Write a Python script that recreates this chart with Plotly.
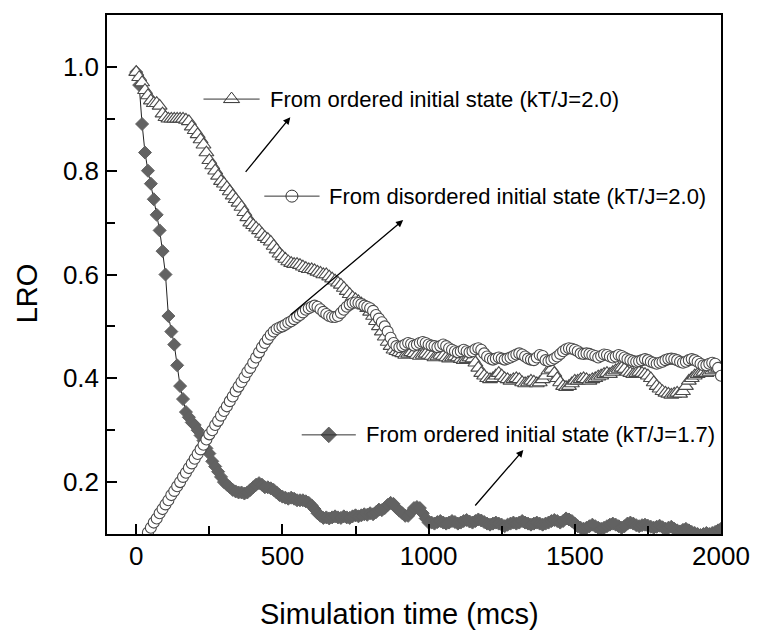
import plotly.graph_objects as go

# ---------------- data ----------------
t_ordered_17 = list(range(0, 2001, 10))
lro_ordered_17 = (
    [0.99, 0.965, 0.89, 0.835, 0.80, 0.775, 0.745, 0.715, 0.685, 0.645]
    + [0.60, 0.52, 0.49, 0.465, 0.425, 0.385, 0.36, 0.335, 0.325, 0.315]
    + [0.31, 0.30, 0.29, 0.28, 0.265, 0.255, 0.24, 0.23, 0.22, 0.21]
    + [0.20, 0.195, 0.19, 0.185, 0.182, 0.18, 0.18, 0.178, 0.18, 0.185]
    + [0.19, 0.195, 0.198, 0.195, 0.19, 0.19, 0.188, 0.185, 0.18, 0.175]
    + [0.172, 0.17, 0.168, 0.17, 0.168, 0.165, 0.165, 0.165, 0.163, 0.16]
    + [0.155, 0.148, 0.14, 0.135, 0.131, 0.132, 0.13, 0.132, 0.134, 0.132]
    + [0.131, 0.134, 0.132, 0.131, 0.134, 0.136, 0.134, 0.136, 0.138, 0.137]
    + [0.14, 0.138, 0.142, 0.147, 0.146, 0.15, 0.156, 0.16, 0.158, 0.15]
    + [0.145, 0.14, 0.135, 0.135, 0.142, 0.15, 0.152, 0.15, 0.14, 0.13]
    + [0.122, 0.122, 0.12, 0.123, 0.125, 0.122, 0.12, 0.122, 0.125, 0.123]
    + [0.12, 0.122, 0.125, 0.127, 0.124, 0.122, 0.125, 0.128, 0.126, 0.123]
    + [0.12, 0.118, 0.12, 0.122, 0.12, 0.118, 0.115, 0.118, 0.12, 0.122]
    + [0.12, 0.122, 0.125, 0.122, 0.12, 0.118, 0.12, 0.122, 0.12, 0.118]
    + [0.12, 0.122, 0.125, 0.127, 0.125, 0.122, 0.125, 0.13, 0.128, 0.125]
    + [0.12, 0.115, 0.112, 0.11, 0.112, 0.115, 0.118, 0.115, 0.112, 0.11]
    + [0.112, 0.115, 0.118, 0.12, 0.118, 0.115, 0.112, 0.115, 0.12, 0.122]
    + [0.12, 0.117, 0.115, 0.117, 0.118, 0.116, 0.114, 0.112, 0.114, 0.116]
    + [0.113, 0.11, 0.112, 0.114, 0.11, 0.107, 0.105, 0.108, 0.11, 0.107]
    + [0.104, 0.102, 0.10, 0.098, 0.10, 0.102, 0.10, 0.102, 0.104, 0.107]
    + [0.11]
)

t_ordered_20 = list(range(0, 2001, 10))
lro_ordered_20 = (
    [0.99, 0.98, 0.97, 0.955, 0.945, 0.935, 0.93, 0.93, 0.925, 0.91]
    + [0.903, 0.90, 0.90, 0.90, 0.90, 0.90, 0.90, 0.898, 0.895, 0.885]
    + [0.878, 0.87, 0.86, 0.85, 0.835, 0.82, 0.81, 0.80, 0.79, 0.78]
    + [0.775, 0.768, 0.76, 0.752, 0.745, 0.738, 0.73, 0.72, 0.71, 0.70]
    + [0.695, 0.69, 0.685, 0.678, 0.672, 0.668, 0.663, 0.655, 0.648, 0.64]
    + [0.635, 0.63, 0.625, 0.622, 0.62, 0.62, 0.618, 0.615, 0.612, 0.61]
    + [0.61, 0.608, 0.605, 0.603, 0.60, 0.60, 0.596, 0.592, 0.588, 0.584]
    + [0.58, 0.574, 0.568, 0.562, 0.556, 0.552, 0.548, 0.544, 0.54, 0.535]
    + [0.528, 0.52, 0.51, 0.50, 0.49, 0.48, 0.47, 0.462, 0.455, 0.452]
    + [0.45, 0.448, 0.445, 0.447, 0.45, 0.448, 0.445, 0.443, 0.445, 0.447]
    + [0.445, 0.443, 0.44, 0.442, 0.445, 0.443, 0.44, 0.438, 0.44, 0.442]
    + [0.44, 0.437, 0.435, 0.437, 0.44, 0.438, 0.43, 0.42, 0.41, 0.405]
    + [0.40, 0.398, 0.40, 0.405, 0.41, 0.405, 0.40, 0.398, 0.395, 0.398]
    + [0.40, 0.398, 0.392, 0.39, 0.392, 0.395, 0.393, 0.39, 0.392, 0.398]
    + [0.405, 0.415, 0.418, 0.41, 0.40, 0.392, 0.385, 0.383, 0.385, 0.39]
    + [0.395, 0.395, 0.398, 0.40, 0.398, 0.395, 0.398, 0.40, 0.403, 0.405]
    + [0.408, 0.41, 0.408, 0.412, 0.415, 0.418, 0.42, 0.418, 0.412, 0.41]
    + [0.408, 0.41, 0.412, 0.41, 0.408, 0.405, 0.40, 0.392, 0.385, 0.38]
    + [0.375, 0.372, 0.37, 0.368, 0.37, 0.372, 0.37, 0.375, 0.385, 0.395]
    + [0.40, 0.405, 0.408, 0.41, 0.412, 0.41, 0.412, 0.415, 0.418, 0.42]
    + [0.42]
)

t_disordered_20 = list(range(40, 2001, 10))
lro_disordered_20 = (
    [0.103, 0.112, 0.122, 0.13, 0.14, 0.148]
    + [0.157, 0.165, 0.175, 0.183, 0.192, 0.20, 0.21, 0.218, 0.227, 0.236]
    + [0.245, 0.254, 0.263, 0.272, 0.282, 0.292, 0.30, 0.31, 0.318, 0.328]
    + [0.337, 0.346, 0.356, 0.365, 0.375, 0.384, 0.393, 0.402, 0.412, 0.42]
    + [0.43, 0.44, 0.45, 0.46, 0.468, 0.476, 0.484, 0.49, 0.495, 0.498]
    + [0.50, 0.503, 0.507, 0.51, 0.514, 0.518, 0.522, 0.527, 0.532, 0.535]
    + [0.538, 0.54, 0.538, 0.533, 0.528, 0.524, 0.52, 0.518, 0.518, 0.52]
    + [0.526, 0.532, 0.538, 0.542, 0.545, 0.546, 0.545, 0.543, 0.54, 0.538]
    + [0.535, 0.53, 0.522, 0.515, 0.508, 0.50, 0.49, 0.478, 0.468, 0.462]
    + [0.46, 0.462, 0.465, 0.468, 0.466, 0.463, 0.465, 0.468, 0.47, 0.468]
    + [0.465, 0.463, 0.462, 0.46, 0.462, 0.465, 0.462, 0.458, 0.455, 0.452]
    + [0.45, 0.452, 0.455, 0.452, 0.45, 0.452, 0.456, 0.458, 0.455, 0.448]
    + [0.442, 0.438, 0.436, 0.438, 0.44, 0.438, 0.436, 0.438, 0.44, 0.443]
    + [0.446, 0.448, 0.446, 0.442, 0.438, 0.436, 0.435, 0.44, 0.445, 0.443]
    + [0.435, 0.433, 0.435, 0.438, 0.442, 0.447, 0.452, 0.456, 0.458, 0.457]
    + [0.455, 0.452, 0.448, 0.447, 0.448, 0.447, 0.445, 0.443, 0.44, 0.443]
    + [0.446, 0.445, 0.442, 0.44, 0.442, 0.445, 0.443, 0.44, 0.437, 0.435]
    + [0.433, 0.432, 0.433, 0.435, 0.437, 0.435, 0.432, 0.43, 0.428, 0.43]
    + [0.432, 0.435, 0.437, 0.438, 0.437, 0.435, 0.432, 0.43, 0.432, 0.435]
    + [0.437, 0.435, 0.432, 0.428, 0.425, 0.425, 0.428, 0.43, 0.428, 0.42]
    + [0.405]
)

labels = [
    "From ordered initial state (kT/J=2.0)",
    "From disordered initial state (kT/J=2.0)",
    "From ordered initial state (kT/J=1.7)",
]

# ---------------- styling ----------------
FONT = "Liberation Sans, Arial, Helvetica, sans-serif"
GRAY = "#626262"
EDGE = "#4a4a4a"

fig = go.Figure()

fig.add_trace(go.Scatter(
    x=t_ordered_17, y=lro_ordered_17, mode="lines+markers",
    line=dict(color="#222222", width=1),
    marker=dict(symbol="diamond", size=10, color=GRAY, line=dict(color=GRAY, width=1)),
    showlegend=False))

fig.add_trace(go.Scatter(
    x=t_ordered_20, y=lro_ordered_20, mode="lines+markers",
    line=dict(color="#222222", width=1),
    marker=dict(symbol="triangle-up", size=13, color="white", line=dict(color=EDGE, width=1.1)),
    showlegend=False))

fig.add_trace(go.Scatter(
    x=t_disordered_20, y=lro_disordered_20, mode="lines+markers",
    line=dict(color="#222222", width=1),
    marker=dict(symbol="circle", size=11, color="white", line=dict(color=EDGE, width=1.1)),
    showlegend=False))

# in-plot key entries: (line x0, line x1, y, symbol, size, fill, text x, arrow tail, arrow head)
keys = [
    (230, 422, 0.938, "triangle-up", 14, "white", 449, (370, 0.795), (527, 0.903)),
    (438, 627, 0.751, "circle", 12, "white", 651, (523, 0.520), (913, 0.705)),
    (566, 751, 0.291, "diamond", 12, GRAY, 778, (1155, 0.152), (1324, 0.262)),
]
for (x0, x1, yk, sym, sz, fill, xt, tail, head), lab in zip(keys, labels):
    fig.add_shape(type="line", x0=x0, x1=x1, y0=yk, y1=yk, xref="x", yref="y",
                  line=dict(color="#333333", width=1))
    fig.add_trace(go.Scatter(
        x=[(x0 + x1) / 2], y=[yk], mode="markers",
        marker=dict(symbol=sym, size=sz, color=fill,
                    line=dict(color="#333333" if fill == "white" else GRAY, width=1)),
        showlegend=False, hoverinfo="skip"))
    fig.add_annotation(x=xt, y=yk, xref="x", yref="y", text=lab, showarrow=False,
                       xanchor="left", yanchor="middle",
                       font=dict(family=FONT, size=22, color="black"))
    fig.add_annotation(x=head[0], y=head[1], ax=tail[0], ay=tail[1],
                       xref="x", yref="y", axref="x", ayref="y", text="",
                       showarrow=True, arrowhead=2, arrowsize=1.1, arrowwidth=1.3,
                       arrowcolor="black", standoff=0, startstandoff=0)

# axis titles
fig.add_annotation(x=-0.13, y=0.464, xref="paper", yref="paper", text="LRO",
                   textangle=-90, showarrow=False, xanchor="center", yanchor="middle",
                   font=dict(family=FONT, size=29, color="black"))
fig.add_annotation(x=0.477, y=-0.155, xref="paper", yref="paper",
                   text="Simulation time (mcs)", showarrow=False,
                   xanchor="center", yanchor="middle",
                   font=dict(family=FONT, size=29, color="black"))

axis_common = dict(
    showgrid=False, zeroline=False, showline=True, linecolor="black", linewidth=1.5,
    mirror=True, ticks="inside", ticklen=10, tickwidth=1.5, tickcolor="black",
    tickfont=dict(family=FONT, size=26, color="black"),
)

fig.update_xaxes(range=[-100, 2000], tick0=0, dtick=500,
                 minor=dict(ticks="inside", ticklen=8, tickwidth=1.5, tickcolor="black", dtick=250, tick0=0),
                 ticklabelstandoff=-2, **axis_common)
fig.update_yaxes(range=[0.1, 1.1], tick0=0.2, dtick=0.2, tickformat=".1f",
                 minor=dict(ticks="inside", ticklen=8, tickwidth=1.5, tickcolor="black", dtick=0.1, tick0=0.1),
                 ticklabelstandoff=1, **axis_common)

fig.update_layout(
    width=762, height=634,
    margin=dict(l=107, r=31, t=15, b=100, pad=0),
    paper_bgcolor="white", plot_bgcolor="white",
    font=dict(family=FONT, color="black"),
    showlegend=False,
)

fig.write_html("out.html")
